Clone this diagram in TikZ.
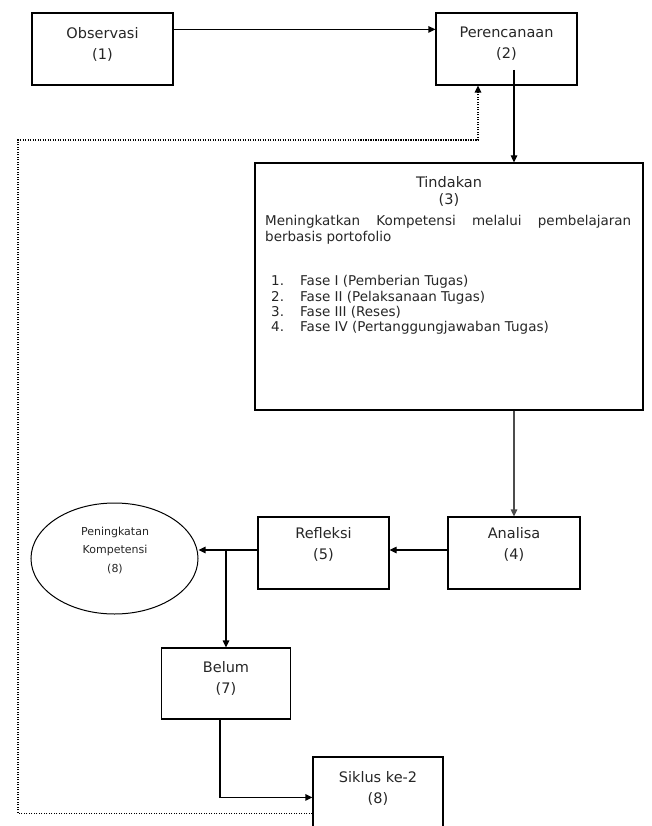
\documentclass[tikz,border=0pt]{standalone}
\usepackage{fontspec}
\setmainfont{DejaVu Sans}
\usetikzlibrary{arrows.meta,calc,shapes.geometric}
\begin{document}
\begin{tikzpicture}[x=1pt,y=-1pt,
  box/.style={draw, line width=1.2pt, inner sep=0pt},
  lbl/.style={align=center, font=\fontsize{14.5}{21}\selectfont, text=black!85},
  body/.style={font=\fontsize{13.5}{16}\selectfont, text=black!85, inner sep=0pt},
  arr/.style={line width=1.2pt, -{Triangle[length=7pt,width=6.5pt]}},
  dots/.style={line width=1.4pt, dash pattern=on 1.3pt off 1.2pt}]
\useasboundingbox (0,0) rectangle (651,826);
% boxes
\node[box, minimum width=141pt, minimum height=72pt] (obs) at (102.5,49) {};
\node[box, minimum width=141pt, minimum height=72pt] (per) at (506.5,49) {};
\node[box, minimum width=388pt, minimum height=247pt] (tin) at (449,286.5) {};
\node[box, minimum width=132pt, minimum height=72pt] (ana) at (514,553) {};
\node[box, minimum width=131pt, minimum height=72pt] (ref) at (323.5,553) {};
\node[draw, ellipse, line width=1pt, minimum width=167pt, minimum height=111pt, inner sep=0pt] (ell) at (114.5,558.5) {};
\node[box, minimum width=129pt, minimum height=71pt] (bel) at (226,683.5) {};
\node[box, minimum width=130pt, minimum height=90pt] (sik) at (378,802) {};
% texts
\node[lbl] (t1) at (102.5,44) {Observasi\\(1)};
\node[lbl] (t2) at (506.5,44) {Perencanaan\\(2)};
\node[lbl, font=\fontsize{14.5}{17}\selectfont] (t3) at (449,191.5) {Tindakan\\(3)};
\node[body, align=left, anchor=west] (t3b) at (265,230) {\hbox to 366pt{Meningkatkan\hfill Kompetensi\hfill melalui\hfill pembelajaran}\\berbasis portofolio};
\node[body, align=left, anchor=west, font=\fontsize{13.5}{15.3}\selectfont] (t3l) at (271,305) {\makebox[29pt][l]{1.}Fase I (Pemberian Tugas)\\\makebox[29pt][l]{2.}Fase II (Pelaksanaan Tugas)\\\makebox[29pt][l]{3.}Fase III (Reses)\\\makebox[29pt][l]{4.}Fase IV (Pertanggungjawaban Tugas)};
\node[lbl] (t4) at (514,544.5) {Analisa\\(4)};
\node[lbl] (t5) at (323.5,544.5) {Refleksi\\(5)};
\node[align=center, font=\fontsize{11}{18.5}\selectfont, text=black!85] (t6) at (115,550.5) {Peningkatan\\Kompetensi\\(8)};
\node[lbl] (t7) at (226,678) {Belum\\(7)};
\node[lbl] (t8) at (378,788) {Siklus ke-2\\(8)};
% connectors
\draw[arr] ($(obs.north east)+(0,17)$) -- ($(per.north west)+(0,17)$);
\coordinate (p2) at (514,70);
\draw[arr] (p2) -- (p2 |- tin.north);
\draw[arr, draw=black!70] (tin.south -| ana.north) -- (ana.north);
\coordinate (a4) at ($(ana.west)+(0,-3)$);
\draw[arr] (a4) -- (a4 -| ref.east);
\coordinate (r5) at ($(ref.west)+(0,-3)$);
\draw[arr] (r5) -- (r5 -| ell.east);
\draw[arr] (r5 -| bel.north) -- (bel.north);
\coordinate (b7) at ($(bel.south)+(-6,0)$);
\coordinate (s8) at ($(sik.north west)+(0,41)$);
\draw[arr] (b7) |- (s8);
\coordinate (s8b) at ($(sik.north west)+(0,57)$);
\coordinate (dl) at (18,140);
\coordinate (dr) at (478,140);
\draw[dots, -{Triangle[length=7pt,width=6.5pt]}] (s8b) -| (dl) -- (dr) -- (dr |- per.south);
\end{tikzpicture}
\end{document}
